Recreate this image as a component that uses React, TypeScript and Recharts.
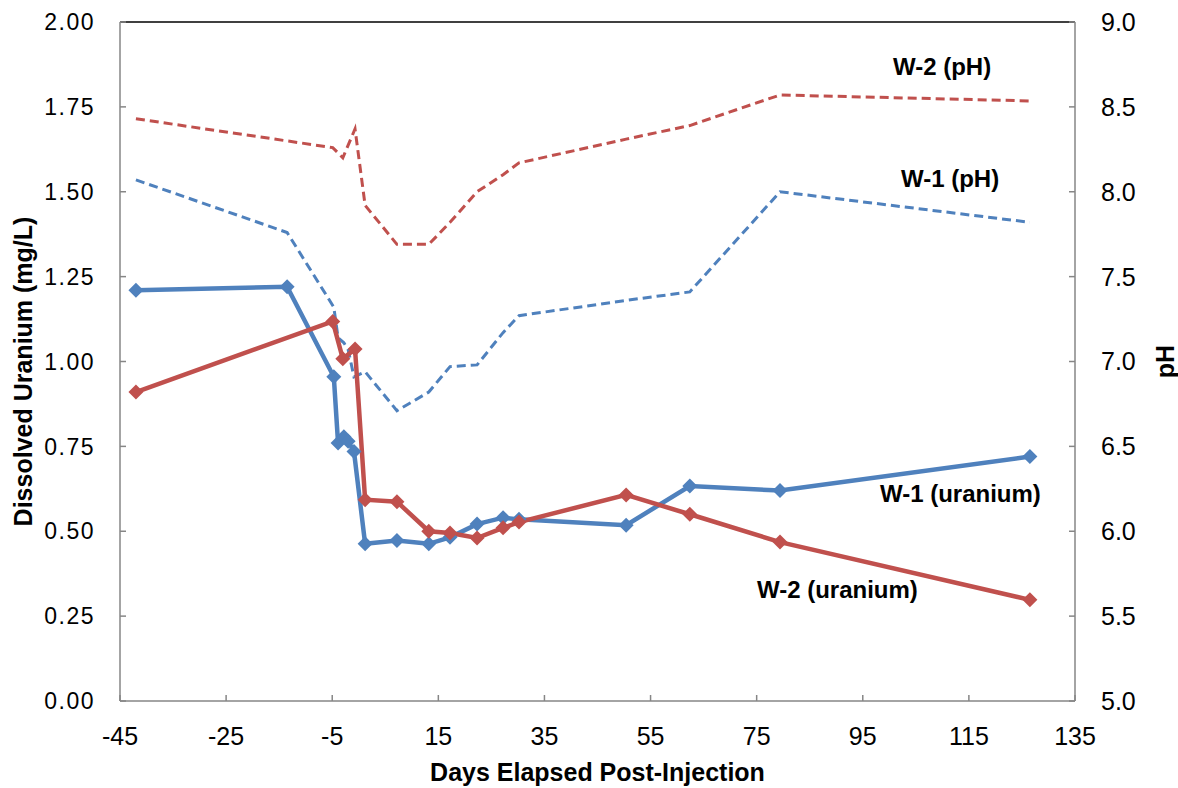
import React from "react";
import {
  ComposedChart, Line, XAxis, YAxis, ReferenceLine, Label,
} from "recharts";

// days after injection
const w1Days = [-42, -13.5, -4.7, -3.9, -2.8, -2.0, -0.9, 1.2, 7.2, 13.2, 17.2, 22.3, 27.2, 30.2, 50.4, 62.4, 79.4, 126.5];
const w1Uranium = [1.21, 1.22, 0.955, 0.76, 0.778, 0.765, 0.735, 0.463, 0.473, 0.463, 0.482, 0.521, 0.54, 0.535, 0.518, 0.633, 0.62, 0.72];
const w1PH = [8.07, 7.76, 7.32, 7.14, 7.11, 7.07, 6.91, 6.94, 6.71, 6.82, 6.97, 6.98, 7.17, 7.27, 7.36, 7.41, 8.0, 7.82];

const w2Days = [-42, -4.9, -3.0, -0.7, 1.2, 7.2, 13.2, 17.2, 22.3, 27.2, 30.2, 50.4, 62.4, 79.4, 126.5];
const w2Uranium = [0.91, 1.118, 1.008, 1.037, 0.593, 0.587, 0.5, 0.495, 0.48, 0.51, 0.527, 0.607, 0.55, 0.468, 0.298];
const w2PH = [8.43, 8.26, 8.2, 8.37, 7.92, 7.69, 7.69, 7.82, 8.0, 8.1, 8.17, 8.31, 8.39, 8.57, 8.535];

const xTicks = [-45, -25, -5, 15, 35, 55, 75, 95, 115, 135];
const uTicks = [0, 0.25, 0.5, 0.75, 1.0, 1.25, 1.5, 1.75, 2.0];
const phTicks = [5.0, 5.5, 6.0, 6.5, 7.0, 7.5, 8.0, 8.5, 9.0];

const BLUE = "#4f81bd";
const RED = "#c0504d";
const AXIS = "#868686";
const FONT = "'Liberation Sans', Arial, sans-serif";

const w1 = w1Days.map((day, i) => ({ day, u: w1Uranium[i], ph: w1PH[i] }));
const w2 = w2Days.map((day, i) => ({ day, u: w2Uranium[i], ph: w2PH[i] }));

function diamond(color: string) {
  return (props: any) => {
    const { cx, cy, index } = props;
    if (cx == null || cy == null) return <g key={index} />;
    const r = 7.5;
    return (
      <polygon
        key={index}
        points={`${cx},${cy - r} ${cx + r},${cy} ${cx},${cy + r} ${cx - r},${cy}`}
        fill={color}
      />
    );
  };
}

const seriesLabels = [
  { text: "W-2 (pH)", x: 893, y: 75 },
  { text: "W-1 (pH)", x: 901, y: 187 },
  { text: "W-1 (uranium)", x: 880, y: 502 },
  { text: "W-2 (uranium)", x: 757, y: 598 },
];

export default function App() {
  return (
    <div style={{ position: "absolute", left: 0, top: 0, width: 1178, height: 788, fontFamily: FONT, background: "#fff" }}>
      <ComposedChart width={1178} height={788} margin={{ top: 22, right: 0, left: 0, bottom: 0 }} style={{ fontFamily: FONT }}>
        <XAxis
          dataKey="day"
          type="number"
          domain={[-45, 135]}
          ticks={xTicks}
          allowDataOverflow
          height={87}
          stroke={AXIS}
          strokeWidth={1.5}
          tickSize={-6}
          tickMargin={32}
          tick={{ fill: "#000", fontSize: 25 }}
        >
          <Label value="Days Elapsed Post-Injection" position="insideBottom" offset={7} style={{ fontSize: 25, fontWeight: "bold", fill: "#000" }} />
        </XAxis>
        <YAxis
          yAxisId="u"
          domain={[0, 2]}
          ticks={uTicks}
          width={120}
          stroke={AXIS}
          strokeWidth={1.5}
          tickSize={-6}
          tickMargin={31}
          tickFormatter={(v: number) => v.toFixed(2)}
          tick={{ fill: "#000", fontSize: 23, letterSpacing: 1.5 }}
        >
          <Label
            content={({ viewBox }: any) => {
              const cy = viewBox.y + viewBox.height / 2 + 10;
              return (
                <text x={23} y={cy} transform={`rotate(-90, 23, ${cy})`} textAnchor="middle" dominantBaseline="central" fontSize={25} fontWeight="bold" fill="#000">
                  Dissolved Uranium (mg/L)
                </text>
              );
            }}
          />
        </YAxis>
        <YAxis
          yAxisId="ph"
          orientation="right"
          domain={[5, 9]}
          ticks={phTicks}
          width={103}
          stroke={AXIS}
          strokeWidth={1.5}
          tickSize={-6}
          tickMargin={32}
          tickFormatter={(v: number) => v.toFixed(1)}
          tick={{ fill: "#000", fontSize: 25 }}
        >
          <Label
            content={({ viewBox }: any) => {
              const cy = viewBox.y + viewBox.height / 2;
              return (
                <text x={1165} y={cy} transform={`rotate(-90, 1165, ${cy})`} textAnchor="middle" dominantBaseline="central" fontSize={25} fontWeight="bold" fill="#000">
                  pH
                </text>
              );
            }}
          />
        </YAxis>
        <ReferenceLine yAxisId="u" y={2} stroke="#000" strokeWidth={1.5} />

        <Line data={w2} yAxisId="ph" dataKey="ph" stroke={RED} strokeWidth={3} strokeDasharray="9 5" dot={false} isAnimationActive={false} />
        <Line data={w1} yAxisId="ph" dataKey="ph" stroke={BLUE} strokeWidth={3} strokeDasharray="9 5" dot={false} isAnimationActive={false} />
        <Line data={w1} yAxisId="u" dataKey="u" stroke={BLUE} strokeWidth={4.5} dot={diamond(BLUE)} isAnimationActive={false} />
        <Line data={w2} yAxisId="u" dataKey="u" stroke={RED} strokeWidth={4.5} dot={diamond(RED)} isAnimationActive={false} />
      </ComposedChart>
      <svg width={1178} height={788} style={{ position: "absolute", left: 0, top: 0, pointerEvents: "none" }}>
        {seriesLabels.map((l) => (
          <text key={l.text} x={l.x} y={l.y} fontSize={24} fontWeight="bold" fill="#000" fontFamily={FONT}>
            {l.text}
          </text>
        ))}
      </svg>
    </div>
  );
}
